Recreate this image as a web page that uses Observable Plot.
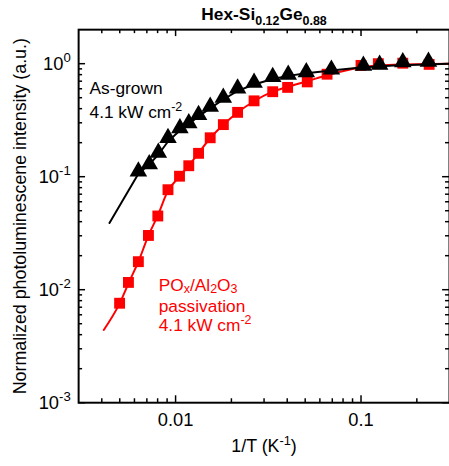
<!DOCTYPE html>
<html>
<head>
<meta charset="utf-8">
<script src="https://cdn.jsdelivr.net/npm/d3@7"></script>
<script src="https://cdn.jsdelivr.net/npm/@observablehq/plot@0.6"></script>
<style>
  html, body { margin: 0; padding: 0; overflow: hidden; background: #fff; }
  svg { display: block; }
</style>
</head>
<body>
<div id="chart"></div>
<script>
// ---- Data ----
const titleText = "Hex-Si_{0.12}Ge_{0.88}";
const xLabel = "1/T (K^{-1})";
const yLabel = "Normalized photoluminescene intensity (a.u.)";

// As-grown (black triangles)
const asGrownX = [0.0063, 0.00721, 0.00807, 0.0091, 0.01055, 0.01178, 0.0133, 0.01537, 0.01808, 0.0216, 0.0265, 0.0334, 0.0405, 0.0507, 0.0692, 0.103, 0.126, 0.168, 0.231];
const asGrownY = [0.108, 0.125, 0.158, 0.214, 0.261, 0.289, 0.342, 0.404, 0.485, 0.585, 0.659, 0.74, 0.775, 0.818, 0.861, 0.934, 0.953, 1.0, 1.01];

// POx/Al2O3 passivation (red squares)
const passX = [0.00499, 0.00557, 0.0063, 0.00714, 0.00802, 0.0091, 0.0105, 0.01178, 0.0133, 0.01537, 0.0181, 0.0216, 0.0265, 0.0334, 0.0402, 0.0513, 0.0656, 0.1, 0.124, 0.168, 0.233];
const passY = [0.00759, 0.0116, 0.0177, 0.0302, 0.0449, 0.0767, 0.101, 0.125, 0.161, 0.221, 0.289, 0.371, 0.469, 0.565, 0.617, 0.69, 0.807, 0.966, 1.0, 1.01, 0.986];

// Fit curves
const asGrownFitX = [0.0044, 0.0063, 0.0072, 0.0081, 0.0091, 0.0105, 0.0118, 0.0133, 0.0154, 0.0181, 0.0216, 0.0265, 0.0334, 0.0405, 0.0507, 0.0692, 0.1, 0.15, 0.3];
const asGrownFitY = [0.039, 0.106, 0.128, 0.158, 0.205, 0.255, 0.292, 0.342, 0.404, 0.482, 0.575, 0.655, 0.732, 0.78, 0.822, 0.87, 0.925, 0.965, 1.0];
const passFitX = [0.0041, 0.005, 0.0056, 0.0063, 0.0071, 0.008, 0.0091, 0.0105, 0.0118, 0.0133, 0.0154, 0.0181, 0.0216, 0.0265, 0.0334, 0.0402, 0.0513, 0.0656, 0.1, 0.15, 0.3];
const passFitY = [0.0044, 0.0076, 0.0116, 0.0177, 0.0295, 0.045, 0.075, 0.1, 0.126, 0.162, 0.22, 0.288, 0.37, 0.465, 0.565, 0.625, 0.7, 0.79, 0.93, 0.98, 1.0];

// Ticks
const xMajorTicks = [0.01, 0.1];
const xMinorTicks = [0.004, 0.005, 0.006, 0.007, 0.008, 0.009, 0.02, 0.03, 0.04, 0.05, 0.06, 0.07, 0.08, 0.09, 0.2];
const xTickLabels = ["0.01", "0.1"];
const yMajorTicks = [0.001, 0.01, 0.1, 1];
const yMinorTicks = [0.002,0.003,0.004,0.005,0.006,0.007,0.008,0.009,0.02,0.03,0.04,0.05,0.06,0.07,0.08,0.09,0.2,0.3,0.4,0.5,0.6,0.7,0.8,0.9];
const yTickLabels = ["10^{-3}", "10^{-2}", "10^{-1}", "10^{0}"];

const asGrownLabel = ["As-grown", "4.1 kW cm^{-2}"];
const passLabel = ["PO_{x}/Al_{2}O_{3}", "passivation", "4.1 kW cm^{-2}"];

// ---- Build ----
const asGrown = asGrownX.map((x, i) => ({x, y: asGrownY[i]}));
const pass = passX.map((x, i) => ({x, y: passY[i]}));
const asGrownFit = asGrownFitX.map((x, i) => ({x, y: asGrownFitY[i]}));
const passFit = passFitX.map((x, i) => ({x, y: passFitY[i]}));

const W = 454, H = 466, ML = 79, MR = 0, MT = 29.5, MB = 59.3;
const FW = W - ML - MR, FH = H - MT - MB;
const RED = "#ff0000";
const FONT = "'Liberation Sans', Arial, sans-serif";

const chart = Plot.plot({
  width: W, height: H,
  marginLeft: ML, marginRight: MR, marginTop: MT, marginBottom: MB,
  style: {fontFamily: FONT, fontSize: "18px", color: "black", background: "white", overflow: "visible"},
  x: {type: "log", domain: [0.003, 0.3], axis: null},
  y: {type: "log", domain: [0.001, 2], axis: null},
  marks: [
    // ticks (inward) bottom/top/left/right
    Plot.ruleX(xMajorTicks, {insetTop: FH - 7, stroke: "black", strokeWidth: 1.5}),
    Plot.ruleX(xMinorTicks, {insetTop: FH - 4, stroke: "black", strokeWidth: 1.5}),
    Plot.ruleX(xMajorTicks, {insetBottom: FH - 7, stroke: "black", strokeWidth: 1.5}),
    Plot.ruleX(xMinorTicks, {insetBottom: FH - 4, stroke: "black", strokeWidth: 1.5}),
    Plot.ruleY(yMajorTicks, {insetRight: FW - 7, stroke: "black", strokeWidth: 1.5}),
    Plot.ruleY(yMinorTicks, {insetRight: FW - 4, stroke: "black", strokeWidth: 1.5}),
    Plot.ruleY(yMajorTicks, {insetLeft: FW - 7, stroke: "black", strokeWidth: 1.5}),
    Plot.ruleY(yMinorTicks, {insetLeft: FW - 4, stroke: "black", strokeWidth: 1.5}),
    // tick labels
    Plot.axisX({ticks: xMajorTicks, tickSize: 0, tickPadding: 10, fontSize: 18.5,
      tickFormat: d => xTickLabels[xMajorTicks.indexOf(d)], label: null}),
    Plot.axisY({ticks: yMajorTicks, tickSize: 0, tickPadding: 8, fontSize: 18.5,
      tickFormat: d => yTickLabels[yMajorTicks.indexOf(d)], label: null}),
    // data
    Plot.line(passFit, {x: "x", y: "y", stroke: RED, strokeWidth: 2, curve: "monotone-x"}),
    Plot.dot(pass, {x: "x", y: "y", symbol: "square", r: 6.2, fill: RED, stroke: null}),
    Plot.line(asGrownFit, {x: "x", y: "y", stroke: "black", strokeWidth: 2, curve: "linear"}),
    Plot.dot(asGrown, {x: "x", y: "y", symbol: "triangle", r: 6.6, fill: "black", stroke: null, dy: -1.5}),
    // frame
    Plot.frame({stroke: "black", strokeWidth: 2}),
    // title & axis labels
    Plot.text([titleText], {text: d => d, frameAnchor: "top", lineAnchor: "bottom", dy: -10.2,
      fontSize: 17.5, fontWeight: "bold", fill: "black"}),
    Plot.text([xLabel], {text: d => d, frameAnchor: "bottom", lineAnchor: "bottom", dy: 49.5,
      fontSize: 18, fill: "black"}),
    Plot.text([yLabel], {text: d => d, frameAnchor: "left", textAnchor: "middle", lineAnchor: "bottom",
      rotate: -90, dx: -53, fontSize: 18, fill: "black"}),
    // annotations
    Plot.text([asGrownLabel[0]], {text: d => d, frameAnchor: "top-left", textAnchor: "start", lineAnchor: "bottom",
      dx: 11, dy: 65.5, fontSize: 17.5, fill: "black"}),
    Plot.text([asGrownLabel[1]], {text: d => d, frameAnchor: "top-left", textAnchor: "start", lineAnchor: "bottom",
      dx: 11, dy: 89.5, fontSize: 17.5, fill: "black"}),
    Plot.text([passLabel[0]], {text: d => d, frameAnchor: "top-left", textAnchor: "start", lineAnchor: "bottom",
      dx: 81, dy: 264.5, fontSize: 17.5, fill: RED}),
    Plot.text([passLabel[1]], {text: d => d, frameAnchor: "top-left", textAnchor: "start", lineAnchor: "bottom",
      dx: 81, dy: 285.5, fontSize: 17.5, fill: RED}),
    Plot.text([passLabel[2]], {text: d => d, frameAnchor: "top-left", textAnchor: "start", lineAnchor: "bottom",
      dx: 81, dy: 305, fontSize: 17.5, fill: RED})
  ]
});

// Convert ^{...} and _{...} markup into tspans
function richify(el) {
  const s = el.textContent;
  if (!/[\^_]\{/.test(s)) return;
  const isTitle = s === titleText;
  const parts = [];
  const re = /([\^_])\{([^}]*)\}/g;
  let last = 0, m;
  while ((m = re.exec(s))) {
    if (m.index > last) parts.push({t: "n", v: s.slice(last, m.index)});
    parts.push({t: m[1] === "^" ? "sup" : "sub", v: m[2]});
    last = re.lastIndex;
  }
  if (last < s.length) parts.push({t: "n", v: s.slice(last)});
  while (el.firstChild) el.removeChild(el.firstChild);
  const NS = "http://www.w3.org/2000/svg";
  const scale = 0.72, supShift = 0.40, subShift = isTitle ? 0.30 : 0.10;
  let cur = 0; // current baseline offset in parent em
  for (const p of parts) {
    const ts = document.createElementNS(NS, "tspan");
    let target = 0;
    if (p.t === "sup") target = -supShift;
    if (p.t === "sub") target = subShift;
    const delta = target - cur;
    if (p.t === "n") {
      if (delta !== 0) ts.setAttribute("dy", delta + "em");
    } else {
      ts.setAttribute("font-size", (scale * 100) + "%");
      if (delta !== 0) ts.setAttribute("dy", (delta / scale) + "em");
    }
    cur = target;
    ts.textContent = p.v;
    el.appendChild(ts);
  }
}
chart.querySelectorAll("text").forEach(richify);

document.getElementById("chart").appendChild(chart);
</script>
</body>
</html>
